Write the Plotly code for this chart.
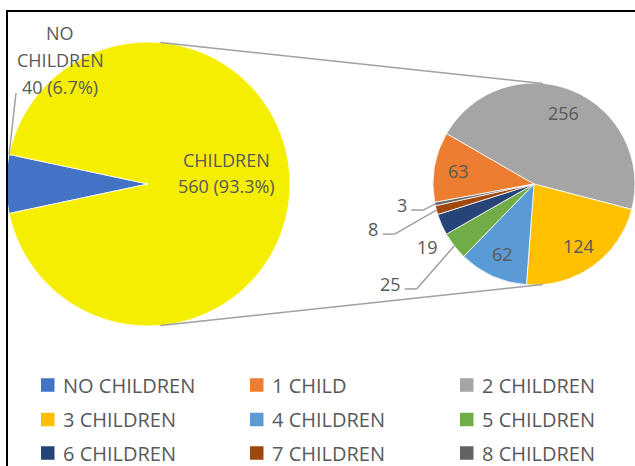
import math
import plotly.graph_objects as go

W, H = 635, 466

# Main pie: households with / without children
main_labels = ["NO CHILDREN", "CHILDREN"]
main_values = [40, 560]
main_colors = ["#4472C4", "#F5EE00"]

# Breakdown of the CHILDREN slice by number of children
detail_labels = ["1 CHILD", "2 CHILDREN", "3 CHILDREN", "4 CHILDREN",
                 "5 CHILDREN", "6 CHILDREN", "7 CHILDREN", "8 CHILDREN"]
detail_values = [63, 256, 124, 62, 25, 19, 8, 3]
detail_colors = ["#ED7D31", "#A5A5A5", "#FFC000", "#5B9BD5",
                 "#70AD47", "#264478", "#9E480E", "#636363"]

# Legend entries (3 x 3 grid)
legend_labels = ["NO CHILDREN"] + detail_labels
legend_colors = [main_colors[0]] + detail_colors

TEXT = "#595959"
FONT = "Open Sans"
LINE = "#A0A0A0"

# pie geometry in pixels (centre x, centre y, radius)
MAIN = dict(cx=148, cy=184, r=142, rot=258)
DET = dict(cx=534, cy=184, r=101, rot=259.5)


def fx(x):
    return x / W


def fy(y):
    return 1 - y / H


def rim(p, ang, frac=1.0):
    a = math.radians(ang)
    return (p["cx"] + frac * p["r"] * math.sin(a),
            p["cy"] - frac * p["r"] * math.cos(a))


def mid_angles(values, rot):
    tot = sum(values)
    out, acc = [], rot
    for v in values:
        span = 360 * v / tot
        out.append((acc, acc + span / 2, acc + span))
        acc += span
    return out


def domain(p):
    return dict(x=[max(0, fx(p["cx"] - p["r"])), min(1, fx(p["cx"] + p["r"]))],
                y=[fy(p["cy"] + p["r"]), fy(p["cy"] - p["r"])])


fig = go.Figure()
fig.add_trace(go.Pie(
    labels=main_labels, values=main_values, sort=False, direction="clockwise",
    rotation=MAIN["rot"], marker=dict(colors=main_colors, line=dict(color="white", width=0.8)),
    textinfo="none", hoverinfo="label+value+percent", showlegend=False,
    domain=domain(MAIN),
))
fig.add_trace(go.Pie(
    labels=detail_labels, values=detail_values, sort=False, direction="clockwise",
    rotation=DET["rot"], marker=dict(colors=detail_colors, line=dict(color="white", width=0.8)),
    textinfo="none", hoverinfo="label+value", showlegend=False,
    domain=domain(DET),
))

shapes = []
annotations = []


def line(x0, y0, x1, y1, color=LINE, width=1.5):
    shapes.append(dict(type="line", xref="paper", yref="paper",
                       x0=fx(x0), y0=fy(y0), x1=fx(x1), y1=fy(y1),
                       line=dict(color=color, width=width)))


def text(x, y, s, size=18, xanchor="center"):
    annotations.append(dict(x=fx(x), y=fy(y), xref="paper", yref="paper",
                            text=s, showarrow=False, xanchor=xanchor, yanchor="middle",
                            font=dict(family=FONT, size=size, color=TEXT)))


# connector lines between the two pies
for ang in (5, 175):
    a = rim(MAIN, ang)
    b = rim(DET, ang)
    line(a[0], a[1], b[0], b[1])

# main pie labels
total = sum(main_values)
main_ang = mid_angles(main_values, MAIN["rot"])
pct = [f"{v} ({100 * v / total:.1f}%)" for v in main_values]

# NO CHILDREN: outside, above-left, with a leader line to the slice edge
lx, ly = 60, 60
for i, s in enumerate(["NO", "CHILDREN", pct[0]]):
    text(lx, ly - 27 + 27 * i, s)
edge = rim(MAIN, main_ang[0][2])
line(lx - 44, ly + 33, edge[0], edge[1])

# CHILDREN: inside the slice
cx, cy = rim(MAIN, main_ang[1][1], 0.555)
for i, s in enumerate([main_labels[1], pct[1]]):
    text(cx, cy - 24 + 26 * i, s)

# detail pie labels
det_ang = mid_angles(detail_values, DET["rot"])
inside = {0, 1, 2, 3}
outside_offset = {4: (-64, 38), 5: (-14, 22), 6: (-63, 19), 7: (-33, 1)}
with_leader = {4, 6, 7}
for i, v in enumerate(detail_values):
    s = str(v)
    if i in inside:
        x, y = rim(DET, det_ang[i][1], 0.76)
        text(x, y, s)
    else:
        ex, ey = rim(DET, det_ang[i][1])
        dx, dy = outside_offset[i]
        x, y = ex + dx, ey + dy
        text(x, y, s)
        if i in with_leader:
            sx = x + len(s) * 5.2 + 4
            line(sx, y + 5, sx + 12, y + 5)
            line(sx + 12, y + 5, ex, ey)

# legend grid
col_x = [41, 250, 460]
row_y = [385, 419.5, 453]
sq = 13.5
for k, (lab, col) in enumerate(zip(legend_labels, legend_colors)):
    x = col_x[k % 3]
    y = row_y[k // 3]
    shapes.append(dict(type="rect", xref="paper", yref="paper",
                       x0=fx(x), x1=fx(x + sq), y0=fy(y + sq / 2), y1=fy(y - sq / 2),
                       fillcolor=col, line=dict(width=0)))
    text(x + sq + 6, y, lab, size=20, xanchor="left")

# chart frame
shapes.append(dict(type="rect", xref="paper", yref="paper",
                   x0=fx(7), x1=1.05, y0=-0.05, y1=fy(11),
                   line=dict(color="black", width=2), fillcolor="rgba(0,0,0,0)"))

fig.update_layout(
    width=W, height=H, autosize=False,
    margin=dict(l=0, r=0, t=0, b=0),
    paper_bgcolor="white", plot_bgcolor="white",
    shapes=shapes, annotations=annotations,
    font=dict(family=FONT, color=TEXT),
)

fig.write_html("out.html")
